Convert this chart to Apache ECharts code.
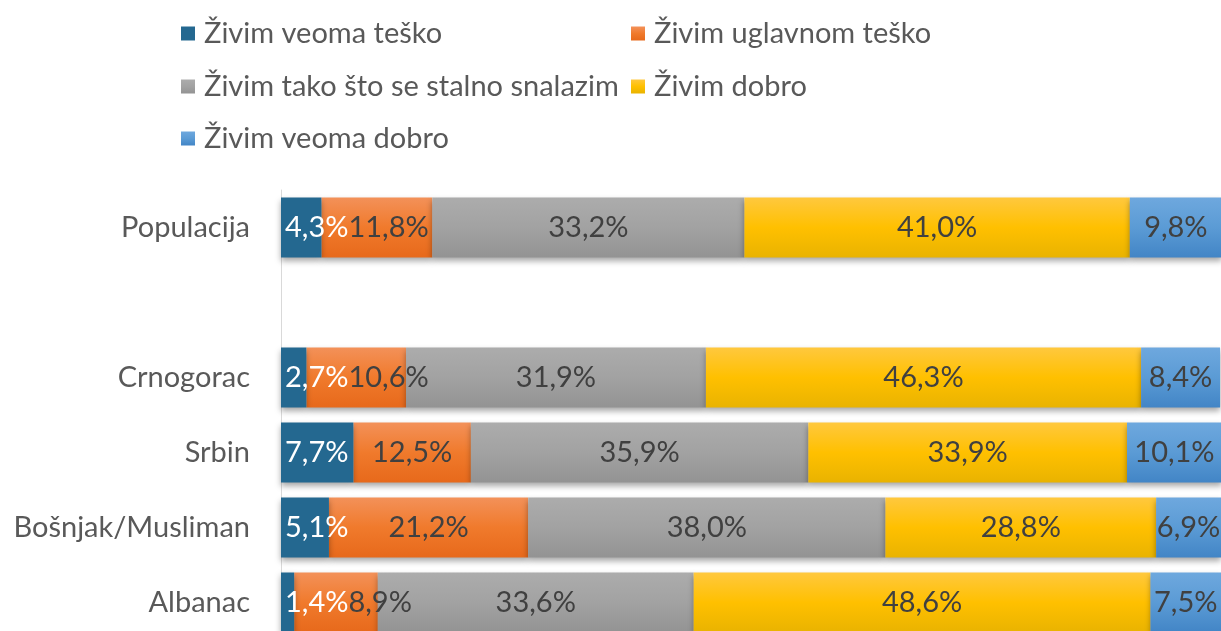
<!DOCTYPE html>
<html>
<head>
<meta charset="utf-8">
<script src="https://cdn.jsdelivr.net/npm/echarts@6/dist/echarts.min.js"></script>
<style>
  html, body { margin: 0; padding: 0; background: #fff; overflow: hidden; }
  #chart { width: 1221px; height: 640px; }
</style>
</head>
<body>
<div id="chart"></div>
<script>
// kategorije (prazna je razmak izmedju populacije i grupa)
const categories = ['Populacija', '', 'Crnogorac', 'Srbin', 'Bošnjak/Musliman', 'Albanac'];
const seriesNames = ['Živim veoma teško', 'Živim uglavnom teško', 'Živim tako što se stalno snalazim', 'Živim dobro', 'Živim veoma dobro'];

const veomaTesko    = [4.3, '-', 2.7, 7.7, 5.1, 1.4];
const uglavnomTesko = [11.8, '-', 10.6, 12.5, 21.2, 8.9];
const snalazim      = [33.2, '-', 31.9, 35.9, 38.0, 33.6];
const dobro         = [41.0, '-', 46.3, 33.9, 28.8, 48.6];
const veomaDobro    = [9.8, '-', 8.4, 10.1, 6.9, 7.5];

const values = [veomaTesko, uglavnomTesko, snalazim, dobro, veomaDobro];

// boje: gore svjetlije, dolje tamnije
const grads = [
  ['#246890', '#246890', '#246890'],
  ['#f39159', '#f07a2c', '#e7691b'],
  ['#acacac', '#a2a2a2', '#939393'],
  ['#ffc83e', '#ffc000', '#e9b300'],
  ['#6ea8de', '#5b9bd5', '#4285c6']
];
const labelColors = ['#ffffff', '#404040', '#404040', '#404040', '#404040'];

const labelFont = '29px Lato';
const gridLeft = 281;
const firstPad = 4;

const fmt = v => v.toFixed(1).replace('.', ',') + '%';

// sirina teksta, da se naljepnice ne preklapaju
const ctx = document.createElement('canvas').getContext('2d');
ctx.font = labelFont;
const textW = s => ctx.measureText(s).width;

const chart = echarts.init(document.getElementById('chart'));

const legendPos = [
  { left: 176, top: 14 },
  { left: 626, top: 14 },
  { left: 176, top: 67 },
  { left: 626, top: 67 },
  { left: 176, top: 119 }
];

const series = seriesNames.map((name, i) => {
  const s = {
    name: name,
    type: 'bar',
    stack: 'total',
    barCategoryGap: '20%',
    clip: false,
    z: i === 0 ? 3 : 2,
    data: values[i],
    itemStyle: {
      color: new echarts.graphic.LinearGradient(0, 0, 0, 1, [
        { offset: 0, color: grads[i][0] },
        { offset: 0.5, color: grads[i][1] },
        { offset: 1, color: grads[i][2] }
      ]),
      shadowColor: 'rgba(0,0,0,0.35)',
      shadowBlur: 6,
      shadowOffsetY: 3
    },
    label: {
      show: true,
      position: i === 0 ? 'insideLeft' : 'inside',
      distance: firstPad,
      color: labelColors[i],
      fontFamily: 'Lato',
      fontSize: 29,
      formatter: p => fmt(p.value)
    }
  };
  if (i === 1) {
    // pomjeri naljepnicu udesno ako udara u prethodnu
    s.labelLayout = function (params) {
      const prev = veomaTesko[params.dataIndex];
      const prevEnd = gridLeft + firstPad + textW(fmt(prev));
      const w = params.labelRect.width;
      const centered = params.rect.x + params.rect.width / 2 - w / 2;
      return {
        x: Math.max(centered, prevEnd),
        y: params.rect.y + params.rect.height / 2,
        align: 'left',
        verticalAlign: 'middle'
      };
    };
  }
  return s;
});

chart.setOption({
  animation: false,
  legend: seriesNames.map((name, i) => ({
    data: [name],
    left: legendPos[i].left,
    top: legendPos[i].top,
    orient: 'horizontal',
    icon: 'rect',
    itemWidth: 14,
    itemHeight: 14,
    itemGap: 10,
    selectedMode: false,
    textStyle: { fontFamily: 'Lato', fontSize: 29, color: '#595959', padding: [0, 0, 0, 4] }
  })),
  grid: { left: gridLeft, right: 0, top: 190, bottom: 0, containLabel: false },
  xAxis: {
    type: 'value',
    min: 0,
    max: 100,
    show: false
  },
  yAxis: {
    type: 'category',
    data: categories,
    inverse: true,
    axisLine: { show: true, lineStyle: { color: '#d9d9d9', width: 1 } },
    axisTick: { show: false },
    axisLabel: { fontFamily: 'Lato', fontSize: 29, color: '#595959', margin: 31 }
  },
  series: series
});
</script>
</body>
</html>
